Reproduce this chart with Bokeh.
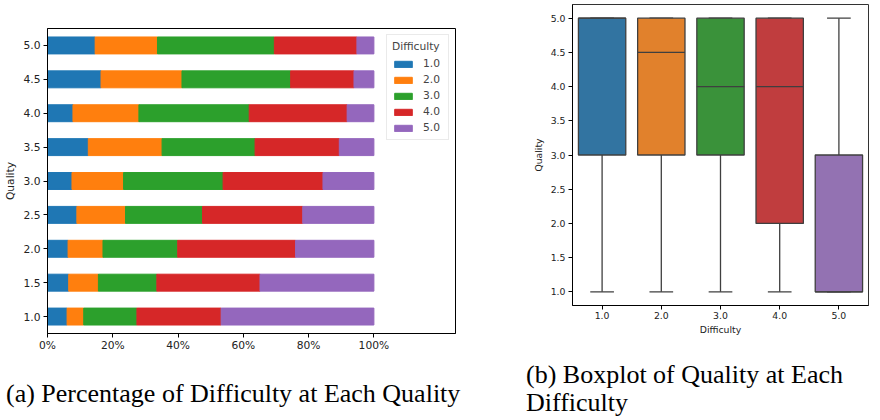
from bokeh.plotting import figure
from bokeh.models import (ColumnDataSource, FactorRange, Range1d, NumeralTickFormatter,
                          FixedTicker, Spacer, Div)
from bokeh.transform import dodge
from bokeh.layouts import row, column
from bokeh.embed import file_html
from bokeh.resources import INLINE

# ---------------- data ----------------
quality = ["1.0", "1.5", "2.0", "2.5", "3.0", "3.5", "4.0", "4.5", "5.0"]
difficulty_labels = ["1.0", "2.0", "3.0", "4.0", "5.0"]
# percentage of each difficulty within each quality level
pct_d1 = [6.0, 6.5, 6.3, 9.0, 7.5, 12.5, 7.8, 16.4, 14.6]
pct_d2 = [5.1, 9.1, 10.7, 14.9, 15.8, 22.6, 20.2, 24.8, 19.1]
pct_d3 = [16.3, 17.9, 22.9, 23.6, 30.5, 28.5, 33.8, 33.3, 35.8]
pct_d4 = [25.8, 31.6, 36.1, 30.7, 30.6, 25.8, 30.0, 19.4, 25.3]
pct_d5 = [46.8, 34.9, 24.0, 21.8, 15.6, 10.6, 8.2, 6.1, 5.2]
pct_ticks = [0, 0.2, 0.4, 0.6, 0.8, 1.0]

# boxplot statistics of quality per difficulty
box_q1 = [3.0, 3.0, 3.0, 2.0, 1.0]
box_med = [5.0, 4.5, 4.0, 4.0, 1.0]
box_q3 = [5.0, 5.0, 5.0, 5.0, 3.0]
box_lo = [1.0, 1.0, 1.0, 1.0, 1.0]
box_hi = [5.0, 5.0, 5.0, 5.0, 5.0]
quality_ticks = [1.0, 1.5, 2.0, 2.5, 3.0, 3.5, 4.0, 4.5, 5.0]

caption_a = "(a) Percentage of Difficulty at Each Quality"
caption_b1 = "(b) Boxplot of Quality at Each"
caption_b2 = "Difficulty"

bar_colors = ["#1f77b4", "#ff7f0e", "#2ca02c", "#d62728", "#9467bd"]
box_colors = ["#3274a1", "#e1812c", "#3a923a", "#c03d3e", "#9372b2"]

SANS = "DejaVu Sans"


def style_axes(p, size):
    p.xgrid.visible = False
    p.ygrid.visible = False
    p.outline_line_color = "black"
    p.outline_line_width = 1
    for ax in (p.xaxis, p.yaxis):
        ax.axis_line_color = "black"
        ax.major_tick_line_color = "black"
        ax.major_tick_out = 4
        ax.major_tick_in = 0
        ax.minor_tick_line_color = None
        ax.major_label_text_font = SANS
        ax.major_label_text_font_size = size
        ax.major_label_text_color = "#222222"
        ax.axis_label_text_font = SANS
        ax.axis_label_text_font_size = size
        ax.axis_label_text_font_style = "normal"
        ax.axis_label_text_color = "#222222"
        ax.major_label_standoff = 3
        ax.axis_label_standoff = 4


def caption_div(lines, width, height, pad_top, pad_left, line_h):
    body = "<br>".join(lines)
    html = ('<div style="font-family:\'Liberation Serif\';font-size:26px;color:#000;'
            'line-height:%dpx;padding-top:%dpx;padding-left:%dpx;white-space:nowrap;'
            'margin:0">%s</div>' % (line_h, pad_top, pad_left, body))
    return Div(text=html, width=width, height=height, margin=0)


# ---------------- left: stacked percentages ----------------
src = ColumnDataSource(dict(
    quality=quality,
    d1=[v / 100 for v in pct_d1],
    d2=[v / 100 for v in pct_d2],
    d3=[v / 100 for v in pct_d3],
    d4=[v / 100 for v in pct_d4],
    d5=[v / 100 for v in pct_d5],
))

p1 = figure(y_range=FactorRange(*quality), x_range=Range1d(0, 1.25),
            frame_width=408, frame_height=305, output_backend="svg", toolbar_location=None,
            title_location=None,
            min_border_left=45, min_border_right=55, min_border_top=1, min_border_bottom=25)
p1.hbar_stack(["d1", "d2", "d3", "d4", "d5"], y="quality", height=0.5,
              color=bar_colors, source=src, legend_label=difficulty_labels)
style_axes(p1, "10.7px")
p1.xaxis.ticker = FixedTicker(ticks=pct_ticks)
p1.xaxis.formatter = NumeralTickFormatter(format="0%")
p1.xaxis.major_label_standoff = 1
p1.yaxis.axis_label = "Quality"

lg = p1.legend[0]
lg.location = "top_right"
lg.margin = 6
lg.title = "Difficulty"
lg.title_text_font = SANS
lg.title_text_font_size = "10.7px"
lg.title_text_font_style = "normal"
lg.title_standoff = 4
lg.label_text_font = SANS
lg.label_text_font_size = "10.7px"
lg.glyph_width = 22
lg.glyph_height = 8
lg.label_height = 12
lg.spacing = 3
lg.padding = 5
lg.label_standoff = 9
lg.border_line_color = "#d5d5d5"
lg.border_line_width = 1
lg.background_fill_alpha = 0.85

c1 = caption_div([caption_a], 508, 60, 23, 6, 26)
left_col = column(Spacer(width=508, height=27), p1, c1, spacing=0)

# ---------------- right: boxplot ----------------
bsrc = ColumnDataSource(dict(d=difficulty_labels, q1=box_q1, med=box_med, q3=box_q3,
                             lo=box_lo, hi=box_hi, color=box_colors))

p2 = figure(x_range=FactorRange(*difficulty_labels), y_range=Range1d(0.8, 5.2),
            frame_width=296, frame_height=301, output_backend="svg", toolbar_location=None,
            title_location=None,
            min_border_left=62, min_border_right=6, min_border_top=4, min_border_bottom=36)
EDGE = "#3f3f3f"
p2.segment(x0="d", y0="lo", x1="d", y1="q1", source=bsrc, line_color=EDGE, line_width=1.3)
p2.segment(x0="d", y0="q3", x1="d", y1="hi", source=bsrc, line_color=EDGE, line_width=1.3)
p2.segment(x0=dodge("d", -0.2, range=p2.x_range), y0="lo",
           x1=dodge("d", 0.2, range=p2.x_range), y1="lo", source=bsrc,
           line_color=EDGE, line_width=1.3)
p2.segment(x0=dodge("d", -0.2, range=p2.x_range), y0="hi",
           x1=dodge("d", 0.2, range=p2.x_range), y1="hi", source=bsrc,
           line_color=EDGE, line_width=1.3)
p2.vbar(x="d", width=0.8, bottom="q1", top="q3", source=bsrc,
        fill_color="color", line_color=EDGE, line_width=1.3)
p2.segment(x0=dodge("d", -0.4, range=p2.x_range), y0="med",
           x1=dodge("d", 0.4, range=p2.x_range), y1="med", source=bsrc,
           line_color=EDGE, line_width=1.3)
style_axes(p2, "9.3px")
p2.outline_line_color = "#333333"
p2.yaxis.ticker = FixedTicker(ticks=quality_ticks)
p2.yaxis.formatter = NumeralTickFormatter(format="0.0")
p2.xaxis.axis_label = "Difficulty"
p2.yaxis.axis_label = "Quality"
p2.xaxis.major_label_standoff = 2
p2.xaxis.axis_label_standoff = 2

c2 = caption_div([caption_b1, caption_b2], 345, 76, 20, 0, 28)
c2_row = row(Spacer(width=16, height=76), c2, spacing=0)
right_col = column(p2, c2_row, spacing=0)

layout = row(left_col, right_col, spacing=0)
open("out.html", "w").write(file_html(layout, INLINE))
